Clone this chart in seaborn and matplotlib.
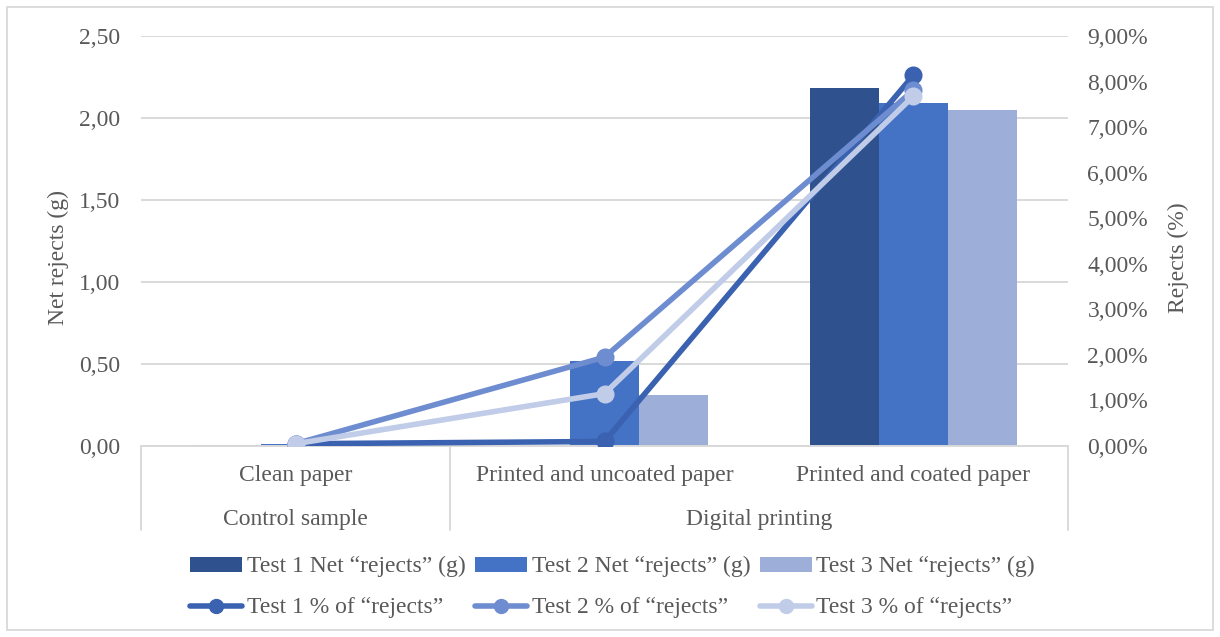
"""Net rejects bar chart with rejects % lines on a twin axis."""

import matplotlib
matplotlib.use('Agg')
import matplotlib.pyplot as plt
import matplotlib.transforms as mtransforms
from matplotlib.patches import Patch, Rectangle
from matplotlib.lines import Line2D
from matplotlib.ticker import FuncFormatter, MultipleLocator
import seaborn as sns
import pandas as pd

# Data
categories = ['Clean paper', 'Printed and uncoated paper', 'Printed and coated paper']
groups = ['Control sample', 'Digital printing', 'Digital printing']
tests = ['Test 1', 'Test 2', 'Test 3']
net_rejects_g = {
    'Test 1': [0.005, 0.0, 2.18],
    'Test 2': [0.015, 0.52, 2.09],
    'Test 3': [0.0, 0.31, 2.05],
}
rejects_pct = {
    'Test 1': [0.05, 0.10, 8.14],
    'Test 2': [0.05, 1.95, 7.81],
    'Test 3': [0.05, 1.15, 7.68],
}

bar_colors = ['#2F528F', '#4472C4', '#9DAED9']
line_colors = ['#3A62B0', '#6E8CD0', '#C0CCE8']
text_color = '#595959'
grid_color = '#D9D9D9'

bars_df = pd.DataFrame([
    {'category': c, 'test': t, 'value': net_rejects_g[t][i]}
    for t in tests for i, c in enumerate(categories)
])
lines_df = pd.DataFrame([
    {'category': c, 'test': t, 'value': rejects_pct[t][i]}
    for t in tests for i, c in enumerate(categories)
])

sns.set_theme(style='white')
plt.rcParams['font.family'] = ['Liberation Serif', 'DejaVu Serif']

fig = plt.figure(figsize=(12.2, 6.37), dpi=100)
ax = fig.add_axes([0.1156, 0.2998, 0.7598, 0.6437])

sns.barplot(data=bars_df, x='category', y='value', hue='test', order=categories,
            hue_order=tests, palette=bar_colors, width=0.667, gap=0,
            saturation=1, errorbar=None, legend=False, linewidth=0,
            ax=ax, zorder=2)

ax.set_ylim(0, 2.5)
ax.set_xlim(-0.5, 2.5)
ax.yaxis.set_major_locator(MultipleLocator(0.5))
ax.yaxis.set_major_formatter(FuncFormatter(lambda v, p: f'{v:.2f}'.replace('.', ',')))
ax.grid(axis='y', color=grid_color, linewidth=1.4, zorder=0)
ax.set_axisbelow(True)
for s in ax.spines.values():
    s.set_visible(False)
ax.spines['bottom'].set_visible(True)
ax.spines['bottom'].set_color(grid_color)
ax.spines['bottom'].set_linewidth(1.4)
ax.tick_params(axis='both', length=0, labelsize=17, labelcolor=text_color)
ax.tick_params(axis='y', pad=15)
ax.tick_params(axis='x', pad=14)
ax.set_xlabel('')
ax.set_ylabel('Net rejects (g)', fontsize=17, color=text_color)
ax.yaxis.set_label_coords(-0.078, 0.46)

ax2 = ax.twinx()
sns.pointplot(data=lines_df, x='category', y='value', hue='test', order=categories,
              hue_order=tests, palette=line_colors, markers='o', linestyles='-',
              errorbar=None, legend=False, markersize=10, linewidth=4, ax=ax2)
ax2.set_ylim(0, 9)
ax2.set_xlim(-0.5, 2.5)
ax2.yaxis.set_major_locator(MultipleLocator(1))
ax2.yaxis.set_major_formatter(FuncFormatter(lambda v, p: f'{v:.2f}%'.replace('.', ',')))
for s in ax2.spines.values():
    s.set_visible(False)
ax2.tick_params(axis='y', length=0, labelsize=17, labelcolor=text_color, pad=14)
ax2.set_ylabel('Rejects (%)', fontsize=17, color=text_color)
ax2.yaxis.set_label_coords(1.108, 0.46)
ax2.grid(False)

# Multi-level category axis
trans = mtransforms.blended_transform_factory(ax.transData, ax.transAxes)
for xv in [-0.5, 0.5, 2.5]:
    ax.plot([xv, xv], [0, -0.205], transform=trans, color=grid_color,
            linewidth=1.4, clip_on=False)
group_labels = {}
for i, g in enumerate(groups):
    group_labels.setdefault(g, []).append(i)
for g, idx in group_labels.items():
    ax.text(sum(idx) / len(idx), -0.18, g, transform=trans, ha='center',
            va='center', fontsize=17, color=text_color)

# Legend
handles = []
labels = []
for t, bc, lc in zip(tests, bar_colors, line_colors):
    handles.append(Patch(facecolor=bc, edgecolor='none'))
    labels.append(f'{t} Net \u201crejects\u201d (g)')
    handles.append(Line2D([], [], color=lc, linewidth=4, marker='o', markersize=10))
    labels.append(f'{t} % of \u201crejects\u201d')
fig.legend(handles, labels, ncol=3, loc='center', bbox_to_anchor=(0.502, 0.078),
           frameon=False, fontsize=17, labelcolor=text_color, handlelength=2.2,
           handleheight=0.6, handletextpad=0.2, columnspacing=0.4,
           labelspacing=0.85)

fig.patches.append(Rectangle((0.006, 0.011), 0.988, 0.978, transform=fig.transFigure,
                             fill=False, edgecolor=grid_color, linewidth=1.3))

fig.savefig('out.png', dpi=100)
plt.close(fig)
